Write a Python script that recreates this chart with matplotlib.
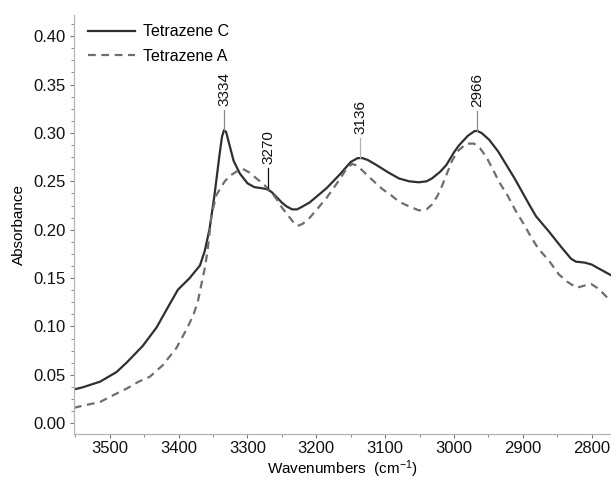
import matplotlib

matplotlib.use("Agg")
import matplotlib.pyplot as plt
from matplotlib.ticker import MultipleLocator

plt.rcParams["font.family"] = ["Liberation Sans", "DejaVu Sans"]
plt.rcParams["mathtext.default"] = "regular"

# Tetrazene C (solid)
wn_c = [3552, 3540, 3514, 3490, 3475, 3452, 3432, 3417, 3401, 3384, 3369, 3362,
        3355, 3348, 3341, 3337, 3334, 3331, 3327, 3320, 3311, 3300, 3290, 3280,
        3272, 3265, 3258, 3250, 3243, 3235, 3228, 3220, 3210, 3195, 3185, 3166,
        3150, 3140, 3133, 3125, 3113, 3095, 3080, 3065, 3051, 3040, 3032, 3020,
        3011, 3000, 2993, 2980, 2970, 2966, 2960, 2949, 2936, 2924, 2912, 2901,
        2890, 2881, 2862, 2843, 2830, 2823, 2810, 2800, 2790, 2772]
abs_c = [0.035, 0.037, 0.043, 0.053, 0.063, 0.080, 0.099, 0.118, 0.138, 0.150,
         0.163, 0.178, 0.201, 0.235, 0.275, 0.296, 0.303, 0.301, 0.290, 0.271,
         0.258, 0.248, 0.244, 0.243, 0.242, 0.239, 0.234, 0.228, 0.224, 0.221,
         0.221, 0.224, 0.228, 0.237, 0.243, 0.257, 0.270, 0.274, 0.274, 0.272,
         0.267, 0.259, 0.253, 0.250, 0.249, 0.250, 0.253, 0.260, 0.267, 0.280,
         0.287, 0.297, 0.302, 0.302, 0.300, 0.293, 0.281, 0.267, 0.253, 0.239,
         0.225, 0.214, 0.198, 0.181, 0.170, 0.167, 0.166, 0.164, 0.160, 0.153]

# Tetrazene A (dashed)
wn_a = [3552, 3540, 3514, 3495, 3475, 3458, 3442, 3423, 3403, 3387, 3378, 3372,
        3365, 3362, 3358, 3352, 3345, 3333, 3325, 3316, 3307, 3297, 3287, 3278,
        3268, 3258, 3249, 3238, 3230, 3227, 3220, 3210, 3198, 3185, 3170, 3156,
        3148, 3140, 3127, 3115, 3104, 3092, 3080, 3065, 3051, 3040, 3032, 3024,
        3017, 3003, 2995, 2982, 2971, 2962, 2953, 2944, 2935, 2922, 2910, 2898,
        2887, 2877, 2862, 2848, 2835, 2822, 2812, 2801, 2790, 2772]
abs_a = [0.016, 0.018, 0.022, 0.029, 0.036, 0.043, 0.048, 0.060, 0.078, 0.099,
         0.113, 0.126, 0.150, 0.160, 0.178, 0.216, 0.236, 0.250, 0.256, 0.260,
         0.263, 0.259, 0.253, 0.248, 0.241, 0.232, 0.222, 0.212, 0.205, 0.204,
         0.206, 0.212, 0.222, 0.233, 0.248, 0.263, 0.268, 0.266, 0.257, 0.249,
         0.242, 0.236, 0.229, 0.224, 0.220, 0.221, 0.226, 0.235, 0.246, 0.271,
         0.281, 0.289, 0.289, 0.284, 0.275, 0.263, 0.250, 0.235, 0.219, 0.205,
         0.191, 0.180, 0.168, 0.154, 0.146, 0.140, 0.142, 0.144, 0.139, 0.126]

# peak markers: position, curve height at the marker, marker line colour
peak_wn = [3334, 3270, 3136, 2966]
peak_base = [0.303, 0.243, 0.274, 0.302]
peak_color = ["#8a8a8a", "#111111", "#b0b0b0", "#8a8a8a"]

fig = plt.figure(figsize=(6.11, 4.8), dpi=100)
ax = fig.add_axes([0.121, 0.096, 0.879, 0.873])

ax.plot(wn_c, abs_c, color="#2f2f2f", lw=1.6, label="Tetrazene C")
ax.plot(wn_a, abs_a, color="#6e6e6e", lw=1.6, ls=(0, (3.5, 2.5)),
        label="Tetrazene A")

for wn, base, col in zip(peak_wn, peak_base, peak_color):
    ax.plot([wn, wn], [base, base + 0.021], color=col, lw=0.9)
    ax.text(wn, base + 0.025, str(wn), rotation=90, ha="center", va="bottom",
            fontsize=11, color="#111111")

ax.set_xlim(3552, 2772)
ax.set_ylim(-0.011, 0.422)
ax.xaxis.set_major_locator(MultipleLocator(100))
ax.xaxis.set_minor_locator(MultipleLocator(50))
ax.yaxis.set_major_locator(MultipleLocator(0.05))
ax.yaxis.set_minor_locator(MultipleLocator(0.0125))
ax.yaxis.set_major_formatter(plt.FormatStrFormatter("%.2f"))

for side in ("top", "right"):
    ax.spines[side].set_visible(False)
for side in ("left", "bottom"):
    ax.spines[side].set_color("#b5b5b5")
    ax.spines[side].set_linewidth(0.9)

ax.tick_params(which="both", colors="#777777", labelcolor="#111111",
               labelsize=12)
ax.tick_params(which="major", length=3, width=0.8)
ax.tick_params(which="minor", length=2, width=0.6)
ax.tick_params(axis="x", pad=2)
ax.tick_params(axis="y", pad=3)

ax.set_xlabel("Wavenumbers  (cm$^{-1}$)", fontsize=11, labelpad=2)
ax.set_ylabel("Absorbance", fontsize=11, labelpad=5)

ax.legend(loc="upper left", frameon=False, fontsize=11.5, handlelength=2.9,
          handletextpad=0.5, bbox_to_anchor=(0.0, 1.012), labelspacing=0.6)

fig.savefig("out.png", dpi=100)
